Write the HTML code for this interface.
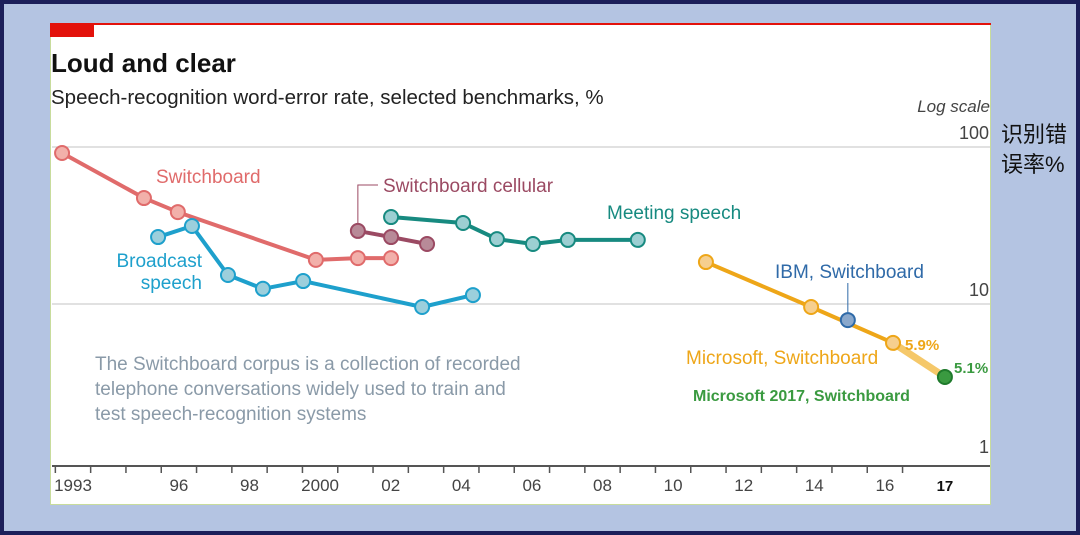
<!DOCTYPE html>
<html><head><meta charset="utf-8">
<style>
html,body{margin:0;padding:0;}
body{width:1080px;height:535px;background:#1c1f5a;position:relative;overflow:hidden;font-family:"Liberation Sans","Noto Sans CJK SC",sans-serif;}
#bg{position:absolute;left:4px;top:4px;width:1072px;height:527px;background:#b4c4e2;}
#panel{position:absolute;left:50px;top:23px;width:941px;height:482px;background:#fff;border:1px solid #c8dc9c;box-sizing:border-box;}
svg{position:absolute;left:0;top:0;}
</style></head><body>
<div id="bg"></div>
<div id="panel"></div>
<svg id="chart" width="1080" height="535"></svg>
<script>
const swYears=[1992.69,1995.01,1995.97,1999.88,2001.07,2002.01];
const swVals=[91.6,47.3,38.5,19.1,19.6,19.6];
const cellYears=[2001.07,2002.01,2003.03];
const cellVals=[29.2,26.7,24.1];
const meetYears=[2002.01,2004.05,2005.01,2006.03,2007.02,2009.0];
const meetVals=[35.8,32.8,25.9,24.1,25.6,25.6];
const bcYears=[1995.41,1996.37,1997.39,1998.38,1999.52,2002.89,2004.33];
const bcVals=[26.7,31.4,15.3,12.5,14.0,9.57,11.4];
const msYears=[2010.93,2013.91,2016.23];
const msVals=[18.5,9.57,5.65];
const ms17Year=[2017.7];
const ms17Val=[3.43];
const ibmYear=[2014.95];
const ibmVal=[7.9];
const xLabels=["1993","96","98","2000","02","04","06","08","10","12","14","16","17"];
const xLabelYears=[1993,1996,1998,2000,2002,2004,2006,2008,2010,2012,2014,2016,2017.7];
const yTicks=[100,10,1];

const X=y=>73+(y-1993)*35.3;
const Y=v=>304-Math.log10(v/10)*157;
const svg=document.getElementById('chart');
const NS='http://www.w3.org/2000/svg';
function mk(t,a,txt){const e=document.createElementNS(NS,t);for(const k in a)e.setAttribute(k,a[k]);if(txt!==undefined)e.textContent=txt;svg.appendChild(e);return e;}

let e;
e=mk('line',{x1:50,y1:24,x2:991,y2:24,stroke:'#e3120b','stroke-width':2});


e=mk('rect',{x:50,y:24,width:44,height:13,fill:'#e3120b'});


e=mk('text',{x:51,y:72,'font-size':26,'font-weight':'bold',fill:'#111'},'Loud and clear');


e=mk('text',{x:51,y:104,'font-size':20.5,fill:'#222'},'Speech-recognition word-error rate, selected benchmarks, %');


e=mk('text',{x:990,y:112,'font-size':17,'font-style':'italic',fill:'#444','text-anchor':'end'},'Log scale');



yTicks.forEach(v=>{
  if(v>1){e=mk('line',{x1:52,y1:Y(v),x2:990,y2:Y(v),stroke:'#cfcfcf','stroke-width':1.2});
  
  }
  e=mk('text',{x:989,y:Y(v)-8,'font-size':18,fill:'#444','text-anchor':'end'},String(v));
  
  
});
e=mk('line',{x1:52,y1:466,x2:990,y2:466,stroke:'#555','stroke-width':2});


for(let yr=1993;yr<=2017;yr++){
  e=mk('line',{x1:X(yr-0.5),y1:466,x2:X(yr-0.5),y2:473,stroke:'#555','stroke-width':1.5});
  
  
}
xLabels.forEach((l,i)=>{
  const last=i===xLabels.length-1;
  e=mk('text',{x:X(xLabelYears[i]),y:491,'font-size':last?15:17,'font-weight':last?'bold':'normal',fill:last?'#111':'#444','text-anchor':'middle'},l);
  
  
});

function series(name,ys,vs,stroke,fill,w){
  e=mk('polyline',{points:ys.map((y,i)=>X(y)+','+Y(vs[i])).join(' '),fill:'none',stroke:stroke,'stroke-width':w||4,'stroke-linejoin':'round'});
  
  
  ys.forEach((y,i)=>{
    e=mk('circle',{cx:X(y),cy:Y(vs[i]),r:7,fill:fill,stroke:stroke,'stroke-width':2});
    
    
  });
}
e=mk('polyline',{points:`${X(cellYears[0])},${Y(cellVals[0])} ${X(cellYears[0])},185 378,185`,fill:'none',stroke:'#9b4a63','stroke-width':1});


e=mk('line',{x1:X(ibmYear[0]),y1:283,x2:X(ibmYear[0]),y2:Y(ibmVal[0]),stroke:'#2f6aa8','stroke-width':1});



series('switchboard',swYears,swVals,'#e06b6b','#f2b0aa');
series('broadcast',bcYears,bcVals,'#1ea0cc','#9ccfdc');
series('cellular',cellYears,cellVals,'#9b4a63','#b88a98');
series('meeting',meetYears,meetVals,'#178a80','#9ccfd2');
e=mk('line',{x1:X(msYears[2]),y1:Y(msVals[2]),x2:X(ms17Year[0]),y2:Y(ms17Val[0]),stroke:'#f5c86a','stroke-width':7});


series('microsoft',msYears,msVals,'#eea618','#f6cf8e');
series('ibm',ibmYear,ibmVal,'#2f6aa8','#8aa8cc');
series('microsoft-2017',ms17Year,ms17Val,'#1f7a2c','#3a9a40');

function label(name,x,y,t,c,s,a,b){e=mk('text',{x:x,y:y,'font-size':s||19,fill:c,'text-anchor':a||'start','font-weight':b?'bold':'normal'},t);

}
label('switchboard-label',156,183,'Switchboard','#e06b6b');
label('cellular-label',383,192,'Switchboard cellular','#9b4a63');
label('meeting-label',607,219,'Meeting speech','#178a80');
label('broadcast-label-1',202,267,'Broadcast','#1ea0cc',19,'end');
label('broadcast-label-2',202,289,'speech','#1ea0cc',19,'end');
label('ibm-label',775,278,'IBM, Switchboard','#2f6aa8');
label('microsoft-label',686,364,'Microsoft, Switchboard','#eea618');
label('ms-59-label',905,350,'5.9%','#eea618',15,'start',true);
label('ms-51-label',954,373,'5.1%','#3a9a40',15,'start',true);
label('ms2017-label',693,401,'Microsoft 2017, Switchboard','#3a9a40',16,'start',true);
label('note-line-1',95,370,'The Switchboard corpus is a collection of recorded','#8a9aa8');
label('note-line-2',95,395,'telephone conversations widely used to train and','#8a9aa8');
label('note-line-3',95,420,'test speech-recognition systems','#8a9aa8');
label('cn-label-1',1001,142,'识别错','#111',22);
label('cn-label-2',1001,172,'误率%','#111',22);
</script>
</body></html>
